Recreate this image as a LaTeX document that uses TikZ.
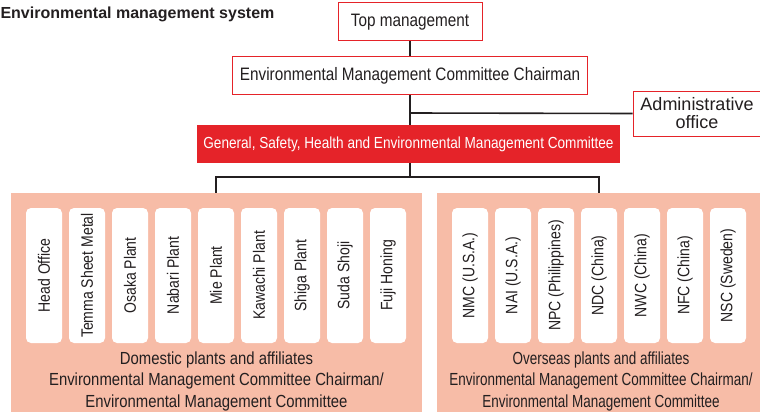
\documentclass[tikz,border=0pt]{standalone}
\usepackage{fontspec}
\setmainfont{Liberation Sans}[FakeStretch=0.85]
\newfontfamily\titlefont{Liberation Sans}
\newfontfamily\narrowfont{Liberation Sans}[FakeStretch=0.77]
\definecolor{emsred}{HTML}{E52329}
\definecolor{emssalmon}{HTML}{F7BCA7}
\definecolor{emsline}{HTML}{231F20}
\tikzset{
  redframe/.style={draw=emsred, line width=1pt, fill=white, inner sep=0pt,
    font=\fontsize{18}{20}\selectfont, text=emsline},
  redfill/.style={fill=emsred, inner sep=0pt, text=white,
    font=\fontsize{16}{18}\selectfont},
  panel/.style={fill=emssalmon, inner sep=0pt},
  plantbox/.style={fill=white, rounded corners=5pt, rotate=90, inner sep=0pt,
    minimum width=135pt, minimum height=36pt,
    font=\fontsize{16.5}{18}\selectfont, text=emsline},
  paneltext/.style={align=center, font=\fontsize{17.5}{21.5}\selectfont, text=emsline},
  link/.style={draw=emsline, line width=1.6pt}
}
\begin{document}
\begin{tikzpicture}[x=1pt,y=-1pt]
    \useasboundingbox (0,0) rectangle (760,412);
    \node[anchor=base west, font=\titlefont\bfseries\fontsize{16}{18}\selectfont, text=emsline]
      (title) at (-3,18.5) {Environmental management system};
    % upper levels
    \node[redframe, minimum width=144pt, minimum height=38pt] (top) at (410,22) {Top management};
    \node[redframe, minimum width=355pt, minimum height=37pt] (chair) at (410,75.5)
      {Environmental Management Committee Chairman};
    \node[redframe, minimum width=128pt, minimum height=45pt, align=center,
      font=\titlefont\fontsize{18}{18}\selectfont] (admin) at (697,113.5)
      {Administrative\\office};
    \node[redfill, minimum width=423pt, minimum height=38pt] (gshe) at (408.5,144)
      {General, Safety, Health and Environmental Management Committee};
    % panels
    \node[panel, minimum width=411pt, minimum height=222pt] (dom) at (216.5,304) {};
    \node[panel, minimum width=330pt, minimum height=222pt] (ovs) at (602,304) {};
    \foreach \name [count=\i] in {Head Office,Temma Sheet Metal,Osaka Plant,Nabari Plant,
      Mie Plant,Kawachi Plant,Shiga Plant,Suda Shoji,Fuji Honing}
    {
      \node[plantbox] (d\i) at ({1+43*\i},275.5) {\name};
    }
    \foreach \name [count=\i] in {NMC (U.S.A.),NAI (U.S.A.),NPC (Philippines),NDC (China),
      NWC (China),NFC (China),NSC (Sweden)}
    {
      \node[plantbox] (o\i) at ({427+43*\i},275.5) {\name};
    }
    \node[paneltext] (domtext) at (216.5,381)
      {Domestic plants and affiliates\\Environmental Management Committee Chairman/\\Environmental Management Committee};
    \node[paneltext, font=\narrowfont\fontsize{17.5}{21.5}\selectfont] (ovstext) at (601,381)
      {Overseas plants and affiliates\\Environmental Management Committee Chairman/\\Environmental Management Committee};
    % connectors
    \coordinate (ja) at (410,113);
    \coordinate (jb) at (410,177);
    \draw[link] (top.south) -- (chair.north);
    \draw[link] (chair.south) -- (chair.south |- gshe.north);
    \draw[link] (ja) -- (admin.west);
    \draw[link] (gshe.south -| jb) -- (jb);
    \draw[link] ([xshift=-0.5pt]dom.north) |- (jb) -| ([xshift=-3pt]ovs.north);
\end{tikzpicture}
\end{document}
